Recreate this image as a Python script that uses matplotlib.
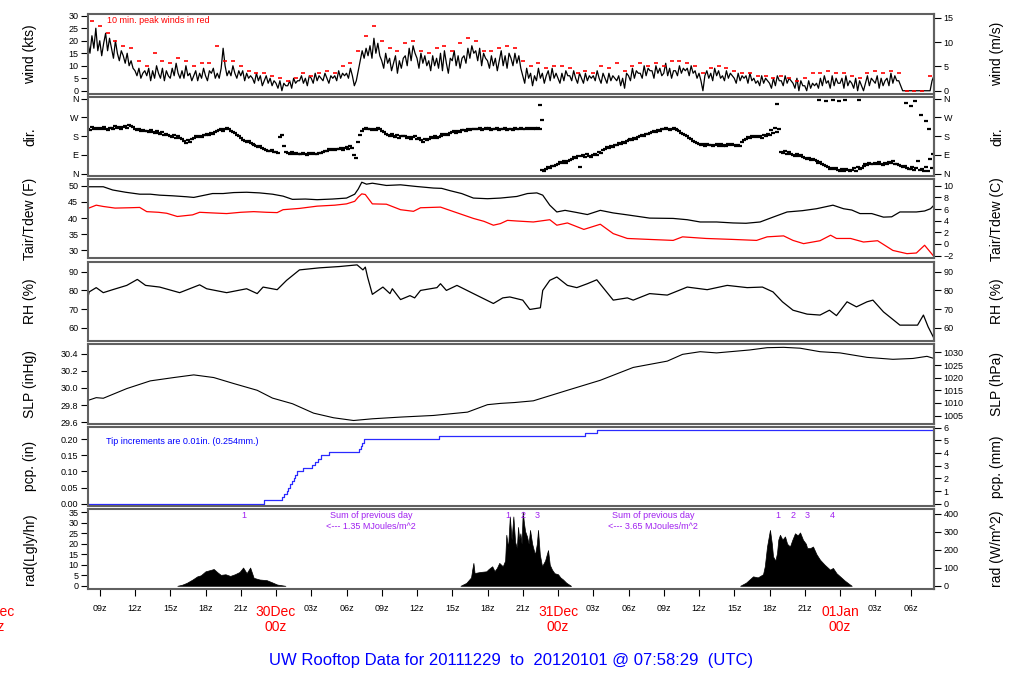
import numpy as np
import matplotlib

matplotlib.use("Agg")
import matplotlib.pyplot as plt
from matplotlib.transforms import blended_transform_factory

plt.rcParams["font.family"] = ["Liberation Sans", "DejaVu Sans"]

# time axis: hours since 2011-12-29 00z
T_START, T_END = 8.0, 80.0

# wind speed (kts), one value every 10 min from 08z (one row per hour)
wind_kts = [
    19, 15, 22, 17, 25, 16,  20, 14, 19, 23, 16, 21,  17, 13, 20, 15, 12, 16,
    14, 11, 15, 10, 12, 9,   8, 6, 9, 5, 7, 8,        6, 9, 4, 8, 5, 10,
    7, 5, 9, 4, 8, 6,        5, 9, 6, 11, 7, 5,       8, 5, 10, 6, 7, 4,
    6, 8, 4, 7, 5, 9,        6, 4, 8, 7, 9, 5,        7, 5, 9, 17, 10, 6,
    8, 6, 10, 7, 5, 8,       6, 8, 4, 7, 5, 6,        5, 3, 7, 4, 6, 2,
    4, 6, 3, 5, 2, 4,        3, 1, 4, 0, 3, 2,        2, 4, 1, 5, 3, 4,
    4, 6, 3, 5, 2, 6,        5, 3, 7, 4, 6, 5,        4, 7, 5, 3, 6, 5,
    6, 4, 8, 5, 7, 6,        7, 5, 9, 6, 2, 4,        8, 12, 16, 13, 17, 14,
    18, 13, 21, 15, 19, 14,  12, 9, 15, 11, 13, 8,    11, 14, 7, 12, 9, 13,
    14, 10, 17, 12, 18, 15,  13, 9, 15, 11, 14, 10,   12, 8, 14, 10, 13, 9,
    15, 8, 16, 11, 7, 13,    12, 16, 10, 14, 9, 13,   14, 11, 17, 13, 18, 15,
    16, 12, 17, 10, 15, 13,  12, 9, 14, 10, 13, 8,    12, 16, 10, 14, 9, 15,
    13, 10, 15, 11, 14, 9,   6, 3, 9, 5, 7, 2,        6, 4, 9, 5, 7, 3,
    6, 8, 4, 9, 5, 7,        5, 3, 7, 4, 8, 6,        6, 4, 8, 5, 3, 7,
    5, 3, 7, 4, 6, 5,        6, 4, 8, 5, 3, 7,        5, 3, 7, 4, 6, 5,
    4, 6, 2, 5, 1, 7,        6, 4, 9, 5, 8, 7,        7, 5, 10, 6, 9, 8,
    8, 5, 10, 7, 9, 6,       7, 11, 6, 9, 5, 8,       8, 6, 10, 7, 9, 8,
    9, 6, 10, 7, 8, 5,       7, 4, 0, 6, 8, 5,        7, 4, 9, 6, 8, 5,
    6, 4, 8, 5, 7, 6,        5, 3, 7, 4, 6, 5,        6, 3, 7, 4, 5, 3,
    4, 2, 6, 3, 5, 4,        3, 1, 5, 2, 6, 4,        4, 2, 6, 3, 5, 4,
    3, 1, 5, 0, 4, 2,        2, 0, 4, 1, 3, 2,        3, 1, 5, 2, 6, 3,
    4, 1, 6, 2, 5, 3,        3, 5, 1, 6, 2, 4,        3, 1, 5, 0, 4, 2,
    0, 3, 6, 2, 5, 4,        3, 6, 1, 5, 2, 4,        5, 2, 7, 3, 6, 4,
    4, 2, 0, 0, 0, 0,        0, 0, 0, 0, 0, 0,        0, 0, 0, 0, 0, 4,
    6,
]

# 10 min peak winds (kts), one value every 40 min
peak_kts = [
    28, 26, 23, 20, 18, 17, 12, 10, 15, 12, 11, 13, 12, 10, 11, 11, 18, 12,
    12, 10, 8, 7, 7, 6, 5, 4, 5, 7, 6, 7, 8, 7, 10, 11, 16, 22,
    26, 20, 17, 16, 19, 20, 16, 15, 17, 18, 16, 19, 21, 20, 16, 16, 17, 18,
    17, 12, 10, 11, 9, 10, 10, 9, 7, 8, 7, 10, 9, 11, 8, 10, 11, 10,
    11, 10, 12, 12, 11, 10, 7, 9, 10, 9, 8, 7, 7, 6, 6, 5, 6, 5,
    4, 5, 7, 7, 8, 7, 7, 6, 5, 7, 8, 7, 8, 7, 0, 0, 0, 6,
]

# wind direction (deg), one value every 10 min from 08z (one row per hour)
dir_deg = [
    216, 210, 222, 214, 219, 212,  218, 212, 224, 215, 210, 221,
    220, 214, 226, 218, 223, 216,  224, 230, 220, 234, 228, 222,
    215, 208, 212, 204, 210, 206,  204, 198, 210, 200, 194, 203,
    194, 188, 198, 185, 192, 186,  182, 176, 186, 172, 180, 170,
    165, 158, 148, 162, 152, 168,  170, 178, 174, 182, 176, 184,
    186, 192, 184, 196, 190, 198,  202, 208, 212, 206, 216, 218,
    214, 206, 200, 194, 186, 180,  170, 162, 156, 152, 158, 148,
    142, 136, 130, 126, 132, 122,  118, 112, 110, 106, 114, 104,
    102, 98, 175, 185, 130, 104,   100, 96, 102, 94, 98, 95,
    96, 92, 98, 94, 90, 97,        95, 100, 96, 92, 99, 97,
    104, 110, 106, 116, 112, 120,  114, 120, 116, 124, 112, 122,
    126, 120, 132, 124, 88, 76,    150, 185, 205, 212, 218, 214,
    214, 208, 216, 210, 218, 212,  205, 198, 192, 186, 182, 188,
    180, 176, 184, 172, 178, 182,  178, 170, 176, 168, 174, 180,
    168, 172, 162, 150, 166, 160,  168, 174, 170, 178, 172, 176,
    182, 188, 184, 192, 186, 194,  198, 202, 196, 206, 200, 208,
    210, 206, 214, 208, 216, 212,  216, 212, 218, 210, 214, 220,
    214, 218, 210, 216, 212, 220,  210, 216, 212, 218, 208, 214,
    214, 210, 218, 212, 216, 220,  216, 212, 218, 214, 220, 216,
    218, 214, 220, 216, 18, 12,    22, 30, 26, 38, 34, 42,
    48, 55, 50, 60, 52, 58,        66, 72, 80, 76, 84, 32,
    84, 88, 80, 92, 86, 78,        90, 96, 88, 104, 100, 112,
    118, 126, 122, 130, 128, 136,  138, 146, 142, 152, 148, 158,
    160, 166, 162, 170, 168, 174,  178, 186, 182, 190, 188, 196,
    198, 204, 200, 210, 206, 212,  212, 218, 214, 210, 216, 220,
    214, 208, 202, 196, 190, 184,  178, 170, 164, 158, 152, 146,
    142, 136, 140, 134, 144, 138,  138, 132, 136, 142, 130, 140,
    134, 138, 130, 142, 136, 140,  136, 130, 138, 132, 150, 160,
    168, 174, 170, 178, 176, 182,  176, 182, 172, 186, 180, 190,
    184, 210, 196, 220, 200, 214,  104, 98, 110, 96, 102, 92,
    90, 86, 94, 82, 88, 80,        76, 70, 74, 66, 72, 64,
    58, 50, 54, 44, 40, 36,        32, 24, 28, 20, 26, 18,
    14, 20, 10, 24, 16, 12,        18, 26, 14, 30, 22, 28,
    38, 46, 42, 52, 48, 44,        50, 44, 56, 48, 40, 52,
    46, 54, 50, 58, 44, 48,        40, 34, 30, 36, 28, 24,
    20, 30, 16, 26, 60, 18,        22, 14, 30, 10, 70, 25,
]
dir_extra_t = [46.5, 46.6, 66.6, 70.2, 70.8, 71.4, 71.9, 72.4, 73.6,
               77.6, 78.0, 78.4, 78.9, 79.3, 79.6, 79.9]
dir_extra = [330, 258, 335, 352, 348, 355, 350, 353, 352,
             340, 325, 348, 280, 250, 215, 95]

# air temperature (F)
tair_t = [8, 9.3, 10.1, 11.2, 12.4, 13.3, 14.1, 15.2, 16.4, 17.0, 17.8, 18.6, 19.5,
          20.4, 21.5, 22.6, 23.7, 24.6, 25.4, 26.5, 27.5, 28.8, 30.0, 30.7, 31.0,
          31.3, 31.7, 32.2, 33.4, 34.6, 35.9, 37.4, 38.1, 38.8, 39.8, 40.8, 42.0,
          43.1, 44.5, 45.4, 46.2, 46.7, 47.3, 47.9, 48.6, 49.5, 50.5, 51.6, 52.7,
          53.9, 55.8, 57.8, 59.0, 60.1, 61.5, 62.9, 64.0, 65.2, 66.3, 67.5, 68.8,
          70.0, 71.4, 72.3, 73.0, 73.7, 74.7, 75.7, 76.4, 77.1, 78.5, 79.2, 79.7, 80.0]
tair_f = [49.7, 49.7, 48.7, 48.0, 47.4, 47.4, 47.1, 46.9, 46.6, 46.4, 47.0, 47.6, 47.6,
          47.9, 48.0, 47.8, 47.4, 46.8, 45.8, 45.9, 45.7, 45.9, 46.2, 47.4, 49.0,
          51.1, 50.5, 50.8, 50.1, 50.3, 49.8, 49.3, 49.2, 48.5, 47.6, 46.2, 46.0,
          46.2, 46.7, 47.6, 47.8, 47.1, 44.0, 41.9, 42.4, 41.8, 41.1, 42.4, 41.6,
          41.0, 40.0, 39.9, 39.5, 38.8, 38.8, 38.5, 38.4, 38.8, 40.3, 41.9, 42.3,
          42.9, 44.0, 42.9, 42.5, 41.4, 41.4, 40.3, 40.4, 41.9, 41.9, 42.2, 42.9, 44.0]

# dew point (F)
tdew_t = [8, 8.7, 9.3, 10.3, 11.5, 12.4, 13.0, 14.0, 14.7, 15.6, 16.9, 17.5, 18.6,
          19.8, 21.0, 22.1, 23.2, 24.1, 24.6, 26.0, 27.5, 29.0, 30.0, 30.7, 31.0,
          31.3, 31.6, 32.2, 33.4, 34.6, 35.7, 36.3, 38.0, 38.8, 40.8, 41.7, 42.5,
          43.1, 43.7, 44.5, 45.9, 47.3, 47.9, 48.8, 50.2, 51.6, 52.7, 53.9, 55.8,
          57.8, 58.6, 60.6, 62.9, 64.9, 65.8, 67.2, 68.0, 68.9, 70.3, 71.2, 71.7,
          72.9, 74.0, 75.2, 76.5, 77.7, 78.5, 79.2, 80.0]
tdew_f = [43.0, 44.0, 43.6, 43.1, 43.2, 43.3, 42.0, 41.8, 41.5, 40.5, 41.0, 41.8, 41.6,
          41.4, 41.8, 42.0, 41.8, 41.7, 42.6, 43.0, 43.7, 44.0, 44.4, 45.2, 46.5,
          47.5, 47.3, 44.4, 44.3, 42.6, 42.1, 43.2, 43.4, 42.4, 39.9, 39.0, 37.8,
          38.3, 39.3, 39.1, 38.8, 39.5, 37.8, 38.5, 36.5, 38.1, 35.2, 33.7, 33.4,
          33.1, 34.2, 33.7, 33.4, 33.1, 34.2, 34.5, 33.1, 32.1, 33.0, 34.7, 33.7,
          33.7, 32.6, 33.0, 30.0, 29.0, 29.2, 31.6, 28.1]

# relative humidity (%)
rh_t = [8.0, 8.1, 8.7, 9.3, 10.1, 11.3, 12.2, 12.9, 14.1, 15.8, 17.5, 18.1, 19.8,
        21.5, 22.4, 22.9, 24.1, 24.9, 26.0, 27.7, 29.4, 30.9, 31.4, 31.6, 31.8,
        32.2, 33.1, 33.7, 33.9, 34.6, 35.4, 35.8, 36.3, 37.7, 38.0, 38.5, 39.4,
        40.8, 42.5, 43.3, 43.9, 45.0, 45.6, 46.5, 46.7, 47.3, 47.9, 48.8, 49.6,
        50.5, 51.3, 51.8, 52.7, 53.9, 54.4, 55.8, 57.3, 59.0, 60.7, 62.4, 64.1,
        65.4, 66.3, 67.1, 68.0, 69.2, 70.3, 71.1, 71.7, 72.6, 73.4, 74.3, 74.8,
        75.7, 77.1, 78.6, 79.1, 79.5, 80.0]
rh_pct = [76.5, 79.2, 81.5, 78.8, 80.4, 82.7, 85.9, 82.7, 81.8, 78.8, 83.0, 80.9, 78.8,
          80.9, 78.3, 81.8, 80.4, 85.4, 91.0, 92.1, 92.8, 93.7, 91.0, 92.5, 87.0,
          77.9, 81.8, 78.3, 80.9, 75.1, 77.2, 76.0, 80.0, 81.5, 83.6, 80.0, 82.7,
          78.3, 73.0, 76.0, 76.5, 74.8, 69.8, 70.7, 80.0, 85.4, 87.2, 82.7, 81.5,
          83.6, 85.7, 81.8, 74.8, 76.0, 74.8, 78.3, 77.5, 81.8, 80.4, 82.7, 81.5,
          81.8, 79.2, 73.9, 69.4, 67.3, 66.8, 69.4, 66.5, 73.9, 71.2, 73.9, 74.8,
          68.5, 61.4, 61.4, 66.8, 60.5, 54.3]

# sea level pressure (inHg)
slp_t = [8.0, 8.7, 9.3, 11.3, 13.3, 15.3, 17.0, 18.7, 20.4, 22.4, 23.7, 25.4, 27.2,
         28.9, 30.6, 32.2, 34.6, 37.4, 40.3, 42.0, 43.1, 44.3, 45.9, 48.8, 51.6,
         54.4, 57.3, 58.6, 60.1, 61.5, 64.3, 65.8, 67.2, 68.6, 70.3, 72.0, 74.3,
         76.5, 78.2, 79.4, 80.0]
slp_in = [29.855, 29.887, 29.88, 29.993, 30.083, 30.122, 30.153, 30.122, 30.052,
          29.973, 29.882, 29.816, 29.706, 29.652, 29.62, 29.64, 29.66, 29.679,
          29.718, 29.805, 29.82, 29.83, 29.85, 29.973, 30.09, 30.24, 30.314,
          30.393, 30.424, 30.41, 30.444, 30.471, 30.475, 30.465, 30.424, 30.41,
          30.358, 30.335, 30.345, 30.37, 30.345]

# accumulated precipitation (in), bucket tips
pcp_t = [8.0, 23.0, 24.5, 24.7, 24.9, 25.05, 25.2, 25.35, 25.5, 25.65, 25.8, 26.3,
         27.1, 27.3, 27.6, 27.8, 28.5, 31.1, 31.2, 31.35, 31.5, 37.9, 50.3, 51.3]
pcp_in = [0.00, 0.01, 0.02, 0.03, 0.04, 0.05, 0.06, 0.07, 0.08, 0.09, 0.10, 0.11,
          0.12, 0.13, 0.14, 0.15, 0.16, 0.17, 0.18, 0.19, 0.20, 0.21, 0.22, 0.23]

# solar radiation (Langley/hr), one list per day
rad1_t = [15.6, 16.0, 16.4, 16.9, 17.3, 17.6, 18.0, 18.4, 18.7, 19.0, 19.3, 19.7,
          20.1, 20.5, 20.9, 21.2, 21.5, 21.8, 22.1, 22.6, 23.2, 23.6, 24.1, 24.8]
rad1 = [0, 0.5, 1.4, 3.0, 4.5, 5.0, 6.9, 7.5, 8.0, 6.5, 5.2, 5.5,
        4.7, 5.5, 6.6, 8.7, 6.0, 8.7, 3.8, 3.0, 2.7, 1.8, 0.6, 0]
rad2_t = [39.7, 40.2, 40.6, 40.7, 40.8, 40.9, 41.4, 41.9, 42.1, 42.4, 42.6, 42.8,
          43.0, 43.3, 43.5, 43.6, 43.75, 43.9, 44.05, 44.2, 44.35, 44.5, 44.6, 44.7,
          44.8, 44.9, 45.0, 45.1, 45.2, 45.36, 45.5, 45.62, 45.8, 46.04, 46.2, 46.3,
          46.45, 46.64, 46.9, 47.15, 47.3, 47.49, 47.7, 48.0, 48.2, 48.43, 48.7,
          49.02, 49.1]
rad2 = [0, 1.4, 4.0, 7.7, 10.9, 6.1, 6.6, 6.9, 8.0, 9.3, 7.0, 8.5,
        10.9, 9.3, 12.0, 24.3, 18.0, 33.0, 22.0, 33.0, 20.9, 18.0, 28.0, 22.0,
        25.0, 20.0, 35.3, 30.0, 26.0, 23.5, 20.0, 26.6, 20.0, 14.8, 20.0, 26.6,
        15.0, 9.3, 12.0, 17.0, 10.0, 7.7, 6.0, 5.5, 4.0, 3.0, 1.5,
        0.3, 0]
rad3_t = [63.5, 64.0, 64.6, 65.0, 65.45, 65.6, 65.79, 66.04, 66.2, 66.3, 66.5, 66.64,
          66.75, 66.89, 67.1, 67.32, 67.5, 67.74, 67.95, 68.17, 68.4, 68.6, 68.85,
          69.1, 69.2, 69.45, 69.7, 70.0, 70.3, 70.7, 71.15, 71.4, 71.7, 72.0, 72.4,
          72.85, 73.0]
rad3 = [0, 1.5, 4.5, 4.0, 5.5, 9.3, 18.7, 26.6, 20.0, 14.0, 12.0, 15.6,
        22.0, 24.3, 22.0, 23.5, 20.0, 18.7, 22.0, 25.0, 24.0, 25.4, 21.9,
        20.0, 18.0, 17.9, 18.7, 15.0, 12.4, 10.0, 7.7, 8.5, 6.0, 4.5, 2.5,
        0.6, 0]

# purple markers above the radiation peaks
rad_mark_t = [21.28, 43.74, 45.02, 46.21, 66.72, 68.0, 69.2, 71.32]
rad_mark_lbl = ["1", "1", "2", "3", "1", "2", "3", "4"]
day_sum_t = [32.1, 56.1]
day_sum_mj = ["1.35", "3.65"]

day_t = [0, 24, 48, 72]
day_lbl = ["29Dec", "30Dec", "31Dec", "01Jan"]

PURPLE = "#A020F0"
TICK_FS = 6.5


def style_axis(ax, ylim, yticks, ylabels):
    ax.set_xlim(T_START, T_END)
    ax.set_ylim(*ylim)
    ax.set_yticks(yticks)
    ax.set_yticklabels(ylabels)
    ax.set_xticks([])
    ax.tick_params(axis="y", direction="out", length=5, width=0.8,
                   labelsize=TICK_FS, pad=2)
    for sp in ax.spines.values():
        sp.set_color("#606060")
        sp.set_linewidth(1.5)


def right_axis(ax, fwd, inv, ticks, labels=None):
    sec = ax.secondary_yaxis("right", functions=(fwd, inv))
    sec.set_yticks(ticks)
    if labels is not None:
        sec.set_yticklabels(labels)
    sec.tick_params(direction="out", length=5, width=0.8, labelsize=TICK_FS, pad=2)
    sec.spines["right"].set_color("#606060")
    sec.spines["right"].set_linewidth(1.5)
    return sec


fig = plt.figure(figsize=(10.24, 7), dpi=100)
W, H = 1024.0, 700.0
left_px, right_px = 88, 934
tops = [14, 96.5, 179, 261.5, 344, 426.5, 509]
hgt = 79.5
axes = []
for top in tops:
    axes.append(fig.add_axes([left_px / W, 1 - (top + hgt) / H,
                              (right_px - left_px) / W, hgt / H]))
ax_w, ax_d, ax_t, ax_rh, ax_p, ax_pcp, ax_rad = axes

# wind
wind_t = T_START + np.arange(len(wind_kts)) / 6.0
peak_t = T_START + (np.arange(len(peak_kts)) + 0.5) * 2.0 / 3.0
ax_w.plot(wind_t, wind_kts, color="black", lw=0.9)
ax_w.plot(peak_t, peak_kts, "_", color="red", ms=3, mew=1.2)
style_axis(ax_w, (-1.1, 30.7), range(0, 31, 5), [str(v) for v in range(0, 31, 5)])
right_axis(ax_w, lambda k: k * 0.51444, lambda m: m / 0.51444, [0, 5, 10, 15])
ax_w.text(9.6, 28.2, "10 min. peak winds in red", color="red", fontsize=TICK_FS,
          va="center")

# direction: short dashes like the original plot
dir_t = T_START + np.arange(len(dir_deg)) / 6.0
ax_d.plot(dir_t, dir_deg, "_", color="black", ms=3, mew=1.6)
ax_d.plot(dir_extra_t, dir_extra, "_", color="black", ms=3, mew=1.6)
compass = ["N", "E", "S", "W", "N"]
style_axis(ax_d, (-12, 370), [0, 90, 180, 270, 360], compass)
right_axis(ax_d, lambda d: d, lambda d: d, [0, 90, 180, 270, 360], compass)

# temperature / dew point
ax_t.plot(tair_t, tair_f, color="black", lw=0.9)
ax_t.plot(tdew_t, tdew_f, color="red", lw=0.9)
style_axis(ax_t, (27.5, 52.1), range(30, 51, 5), [str(v) for v in range(30, 51, 5)])
right_axis(ax_t, lambda f: (f - 32) * 5 / 9, lambda c: c * 9 / 5 + 32,
           range(-2, 11, 2))

# RH
ax_rh.plot(rh_t, rh_pct, color="black", lw=0.9)
style_axis(ax_rh, (52.9, 95.5), [60, 70, 80, 90], ["60", "70", "80", "90"])
right_axis(ax_rh, lambda v: v, lambda v: v, [60, 70, 80, 90])

# SLP
ax_p.plot(slp_t, slp_in, color="black", lw=0.8)
slp_ticks = [29.6, 29.8, 30.0, 30.2, 30.4]
style_axis(ax_p, (29.585, 30.514), slp_ticks, [f"{v:.1f}" for v in slp_ticks])
right_axis(ax_p, lambda v: v * 33.8639, lambda h: h / 33.8639,
           range(1005, 1031, 5))

# precipitation
ax_pcp.step(pcp_t + [T_END], pcp_in + [pcp_in[-1]], where="post",
            color="#2a2aff", lw=0.9)
pcp_ticks = [0.0, 0.05, 0.10, 0.15, 0.20]
style_axis(ax_pcp, (-0.0072, 0.2397), pcp_ticks, [f"{v:.2f}" for v in pcp_ticks])
right_axis(ax_pcp, lambda v: v * 25.4, lambda m: m / 25.4, range(0, 7))
ax_pcp.text(9.53, 0.193, "Tip increments are 0.01in. (0.254mm.)", color="blue",
            fontsize=TICK_FS, va="center")

# radiation
for rt, rv in [(rad1_t, rad1), (rad2_t, rad2), (rad3_t, rad3)]:
    ax_rad.fill_between(rt, 0, rv, color="black", lw=0.5)
style_axis(ax_rad, (-1.28, 36.56), range(0, 36, 5), [str(v) for v in range(0, 36, 5)])
right_axis(ax_rad, lambda l: l * 11.622, lambda w: w / 11.622, range(0, 401, 100))
for t, lbl in zip(rad_mark_t, rad_mark_lbl):
    ax_rad.text(t, 33.3, lbl, color=PURPLE, fontsize=TICK_FS, ha="center",
                va="center")
for t, mj in zip(day_sum_t, day_sum_mj):
    ax_rad.text(t, 33.3, "Sum of previous day", color=PURPLE, fontsize=TICK_FS,
                ha="center", va="center")
    ax_rad.text(t, 28.0, f"<--- {mj} MJoules/m^2", color=PURPLE, fontsize=TICK_FS,
                ha="center", va="center")

# time axis on the bottom panel
hour_ticks = list(range(9, 79, 3))
ax_rad.set_xticks(hour_ticks)
ax_rad.set_xticklabels(["" if h % 24 == 0 else f"{h % 24:02d}z" for h in hour_ticks])
ax_rad.tick_params(axis="x", direction="out", length=5, width=0.8,
                   labelsize=TICK_FS, pad=6)
trans = blended_transform_factory(ax_rad.transData, fig.transFigure)
for t, lbl in zip(day_t, day_lbl):
    ax_rad.text(t, 1 - 612 / H, lbl, transform=trans, color="red", fontsize=10,
                ha="center", va="center", clip_on=False)
    ax_rad.text(t, 1 - 627 / H, "00z", transform=trans, color="red", fontsize=10,
                ha="center", va="center", clip_on=False)

# axis titles
left_lbl = ["wind (kts)", "dir.", "Tair/Tdew (F)", "RH (%)", "SLP (inHg)",
            "pcp. (in)", "rad(Lgly/hr)"]
right_lbl = ["wind (m/s)", "dir.", "Tair/Tdew (C)", "RH (%)", "SLP (hPa)",
             "pcp. (mm)", "rad (W/m^2)"]
for top, ll, rl in zip(tops, left_lbl, right_lbl):
    yc = 1 - (top + hgt / 2) / H
    fig.text(30 / W, yc, ll, rotation=90, ha="center", va="center", fontsize=10)
    fig.text(997 / W, yc, rl, rotation=90, ha="center", va="center", fontsize=10)

fig.text(0.499, 1 - 661 / H,
         "UW Rooftop Data for 20111229  to  20120101 @ 07:58:29  (UTC)",
         color="blue", fontsize=12, ha="center", va="center")

fig.savefig("out.png", dpi=100)
